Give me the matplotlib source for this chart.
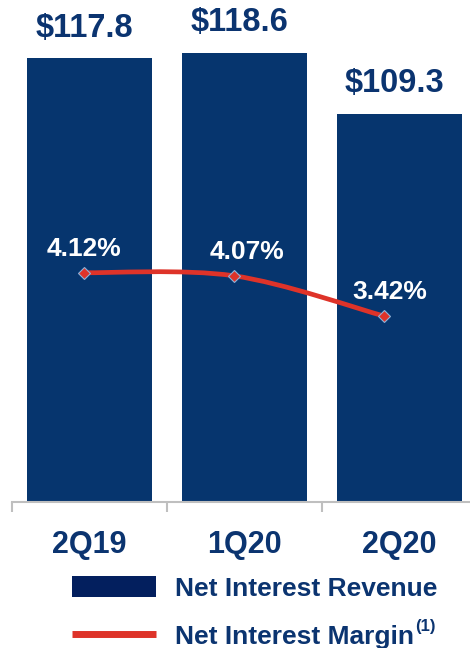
import matplotlib
matplotlib.use("Agg")
import matplotlib.pyplot as plt
from matplotlib.path import Path
from matplotlib.patches import PathPatch, Patch
from matplotlib.lines import Line2D
import numpy as np

plt.rcParams['font.family'] = ['Liberation Sans', 'DejaVu Sans']
plt.rcParams['font.weight'] = 'bold'

# ---- data ----
categories = ["2Q19", "1Q20", "2Q20"]
revenue = [117.8, 118.6, 109.3]
margin = [4.12, 4.07, 3.42]
revenue_labels = ["$117.8", "$118.6", "$109.3"]
margin_labels = ["4.12%", "4.07%", "3.42%"]
legend_labels = ["Net Interest Revenue", "Net Interest Margin"]

NAVY = '#06356E'
TEXT = '#0B3470'
RED = '#DE3329'
GRAY = '#BFBFBF'

W, H = 470, 648
fig = plt.figure(figsize=(W / 100, H / 100), dpi=100)

left_px, bottom_px = 12, 502
ax = fig.add_axes([left_px / W, (H - bottom_px) / H, (W - left_px) / W, bottom_px / H])
x = np.arange(len(categories))
bars = ax.bar(x, revenue, width=0.81, color=NAVY, zorder=2)

for sp in ['top', 'right', 'left']:
    ax.spines[sp].set_visible(False)
ax.spines['bottom'].set_color(GRAY)
ax.spines['bottom'].set_linewidth(1.5)
ax.set_yticks([])
ax.set_xticks(np.arange(-0.5, 3.0, 1.0))
ax.set_xticklabels([])
ax.tick_params(axis='x', which='major', length=7.5, width=1.5, color=GRAY, direction='out')
ax.set_xticks(x, minor=True)
ax.set_xticklabels(categories, minor=True, fontsize=22, color=TEXT, fontweight='bold')
ax.tick_params(axis='x', which='minor', length=0, pad=20)
ax.set_xlim(-0.5, 2.455)
ax.set_ylim(50, 50 + bottom_px / 6.55)

for xi, v, lab in zip(x, revenue, revenue_labels):
    ax.annotate(lab, (xi, v), xytext=(-3.5, 21.5), textcoords='offset points',
                ha='center', va='center', fontsize=23.5, color=TEXT, fontweight='bold')

# secondary axes for margin line
ax2 = fig.add_axes(ax.get_position(), frameon=False)
ax2.set_xticks([])
ax2.set_yticks([])
ax2.set_xlim((left_px - 84) / 150, (W - 84) / 150)
ax2.set_ylim(0.416, 8.525)

# smooth curve through the points (Catmull-Rom as Bezier)
pts = np.column_stack([x, margin]).astype(float)
ext = np.vstack([pts[0], pts, pts[-1]])
verts = [tuple(pts[0])]
codes = [Path.MOVETO]
for i in range(len(pts) - 1):
    p0, p1, p2, p3 = ext[i], ext[i + 1], ext[i + 2], ext[i + 3]
    c1 = p1 + (p2 - p0) / 6
    c2 = p2 - (p3 - p1) / 6
    verts += [tuple(c1), tuple(c2), tuple(p2)]
    codes += [Path.CURVE4] * 3
ax2.add_patch(PathPatch(Path(verts, codes), facecolor='none', edgecolor=RED,
                        lw=3.4, zorder=3, capstyle='round'))
ax2.plot(x, margin, linestyle='none', marker='D', markersize=6.5,
         markerfacecolor=RED, markeredgecolor='#8DB3DA', markeredgewidth=0.8, zorder=4)

offs = [0, 9, 4]
for xi, v, lab, o in zip(x, margin, margin_labels, offs):
    ax2.annotate(lab, (xi, v), xytext=(o, 17), textcoords='offset points',
                 ha='center', va='center', fontsize=19, color='white', fontweight='bold')

# legend
h1 = Patch(facecolor='#031F5E', edgecolor='none')
h2 = Line2D([], [], color=RED, lw=5, solid_capstyle='butt')
leg = fig.legend([h1, h2], legend_labels, loc='upper left',
                 bbox_to_anchor=(72 / W, 1 - 576 / H), frameon=False,
                 fontsize=19, handlelength=3.2, handleheight=0.85,
                 handletextpad=0.72, labelspacing=0.88, borderpad=0, borderaxespad=0)
for t in leg.get_texts():
    t.set_color(TEXT)
    t.set_fontweight('bold')

fig.canvas.draw()
bb = leg.get_texts()[1].get_window_extent()
fig.text((bb.x1 + 1) / W, (bb.y1 - 2) / H, "(1)", fontsize=12, color=TEXT,
         fontweight='bold', ha='left', va='center')

fig.savefig("out.png", dpi=100)
